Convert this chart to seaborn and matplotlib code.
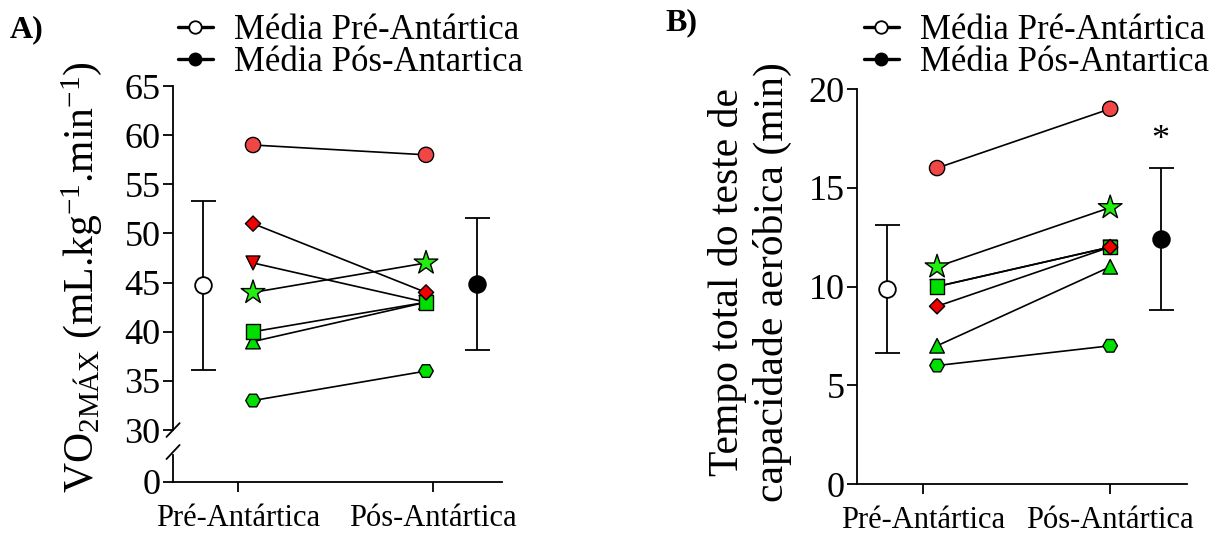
import matplotlib
matplotlib.use('Agg')
import matplotlib.pyplot as plt
import seaborn as sns
import pandas as pd
from matplotlib.lines import Line2D

# data
subjects = ['hexagon', 'tri_up', 'tri_down', 'square', 'diamond', 'star', 'circle']
vo2_pre = [33, 39, 47, 40, 51, 44, 59]
vo2_post = [36, 43, 43, 43, 44, 47, 58]
tempo_pre = [6, 7, 10, 10, 9, 11, 16]
tempo_post = [7, 11, 12, 12, 12, 14, 19]
periods = ['Pré-Antártica', 'Pós-Antártica']
legend_labels = ['Média Pré-Antártica', 'Média Pós-Antartica']

markers = {'circle': 'o', 'diamond': 'D', 'tri_down': 'v', 'star': '*',
           'square': 's', 'tri_up': '^', 'hexagon': 'H'}
colors = {'circle': '#F04646', 'diamond': '#F00000', 'tri_down': '#F00000',
          'star': '#22EE11', 'square': '#00E000', 'tri_up': '#00E000', 'hexagon': '#00E000'}
sizes = {'circle': 120, 'diamond': 60, 'tri_down': 100, 'star': 320,
         'square': 110, 'tri_up': 110, 'hexagon': 110}

sns.set_style('ticks')
plt.rcParams['font.family'] = ['Liberation Serif', 'DejaVu Serif']
plt.rcParams['mathtext.fontset'] = 'custom'
plt.rcParams['mathtext.rm'] = 'Liberation Serif'
plt.rcParams['mathtext.it'] = 'Liberation Serif:italic'
plt.rcParams['axes.linewidth'] = 1.3
for key in ['text.color', 'axes.labelcolor', 'xtick.color', 'ytick.color', 'axes.edgecolor']:
    plt.rcParams[key] = 'black'


def long_table(pre, post, x_pre, x_post):
    rows = []
    for s, a, b in zip(subjects, pre, post):
        rows.append({'subject': s, 'period': periods[0], 'x': x_pre, 'value': a})
        rows.append({'subject': s, 'period': periods[1], 'x': x_post, 'value': b})
    return pd.DataFrame(rows)


def draw_panel(ax, df, mean_x):
    sns.lineplot(data=df, x='x', y='value', units='subject', estimator=None,
                 color='black', lw=1.2, sort=False, legend=False, ax=ax)
    sns.scatterplot(data=df, x='x', y='value', hue='subject', style='subject',
                    size='subject', markers=markers, palette=colors, sizes=sizes,
                    hue_order=subjects, style_order=subjects, size_order=subjects,
                    edgecolor='black', linewidth=1.0, legend=False, zorder=3, ax=ax)
    stats = df.groupby('period', sort=False)['value'].agg(['mean', 'std'])
    for (period, row), mx, fc in zip(stats.iterrows(), mean_x, ['white', 'black']):
        ax.errorbar(mx, row['mean'], yerr=row['std'], fmt='o', ms=12, mfc=fc, mec='black',
                    mew=1.3, ecolor='black', elinewidth=1.3, capsize=9, capthick=1.3, zorder=4)
    ax.set_xlabel('')
    ax.set_ylabel('')
    return stats


def add_legend(fig, x0, y0):
    handles = [Line2D([], [], color='black', lw=2.4, marker='o', ms=9, mfc='white', mec='black', mew=1.3),
               Line2D([], [], color='black', lw=2.4, marker='o', ms=9, mfc='black', mec='black')]
    fig.legend(handles, legend_labels, loc='upper left', bbox_to_anchor=(x0, y0),
               frameon=False, fontsize=25, handlelength=1.0, handletextpad=0.6,
               labelspacing=-0.02, borderpad=0, borderaxespad=0)


fig = plt.figure(figsize=(12.3, 5.33), dpi=100)

# Panel A: broken y axis
ax_top = fig.add_axes([0.1407, 0.1932, 0.2675, 0.6454])
ax_bot = fig.add_axes([0.1407, 0.0957, 0.2675, 0.0507])
df_a = long_table(vo2_pre, vo2_post, 0.077, 0.964)
draw_panel(ax_top, df_a, [-0.18, 1.226])
ax_top.set_ylim(30, 65)
ax_top.set_yticks(range(30, 70, 5))
ax_top.set_xlim(-0.333, 1.354)
ax_top.set_xticks([])
for side in ['top', 'right', 'bottom']:
    ax_top.spines[side].set_visible(False)
ax_top.tick_params(axis='y', length=7, width=1.3, labelsize=26, pad=2)

ax_bot.set_xlim(-0.333, 1.354)
ax_bot.set_ylim(0, 2.75)
ax_bot.set_yticks([0])
ax_bot.set_xticks([0, 1])
ax_bot.set_xticklabels(periods)
for side in ['top', 'right']:
    ax_bot.spines[side].set_visible(False)
ax_bot.tick_params(axis='y', length=7, width=1.3, labelsize=26, pad=2)
ax_bot.tick_params(axis='x', length=7, width=1.3, labelsize=22, pad=9)

brk = dict(color='black', lw=1.3, clip_on=False)
ax_top.plot([-0.02, 0.02], [-0.02, 0.02], transform=ax_top.transAxes, **brk)
ax_bot.plot([-0.02, 0.02], [0.85, 1.37], transform=ax_bot.transAxes, **brk)

fig.text(82 / 1230, 1 - 277 / 533, r'VO$_{\mathrm{2MÁX}}$ (mL.kg$^{\mathrm{-1}}$.min$^{\mathrm{-1}}$)',
         rotation=90, ha='center', va='center', fontsize=30)
fig.text(0.008, 1 - 30 / 533, 'A)', fontsize=23, fontweight='bold', va='center')
add_legend(fig, 178 / 1230, 1 - 14 / 533)

# Panel B
ax_b = fig.add_axes([0.6967, 0.0919, 0.2683, 0.741])
df_b = long_table(tempo_pre, tempo_post, 0.075, 1.0)
draw_panel(ax_b, df_b, [-0.19, 1.27])
ax_b.set_ylim(0, 20)
ax_b.set_yticks(range(0, 25, 5))
ax_b.set_xlim(-0.353, 1.41)
ax_b.set_xticks([0, 1])
ax_b.set_xticklabels(periods)
for side in ['top', 'right']:
    ax_b.spines[side].set_visible(False)
ax_b.tick_params(axis='y', length=7, width=1.3, labelsize=26, pad=2)
ax_b.tick_params(axis='x', length=7, width=1.3, labelsize=22, pad=9)
ax_b.text(1.27, 17.4, '*', ha='center', va='center', fontsize=26)

fig.text(750 / 1230, 1 - 282 / 533, 'Tempo total do teste de\ncapacidade aeróbica (min)',
         rotation=90, ha='center', va='center', fontsize=30, multialignment='center')
fig.text(665 / 1230, 1 - 23 / 533, 'B)', fontsize=23, fontweight='bold', va='center')
add_legend(fig, 864 / 1230, 1 - 14 / 533)

fig.savefig('out.png', dpi=100)
